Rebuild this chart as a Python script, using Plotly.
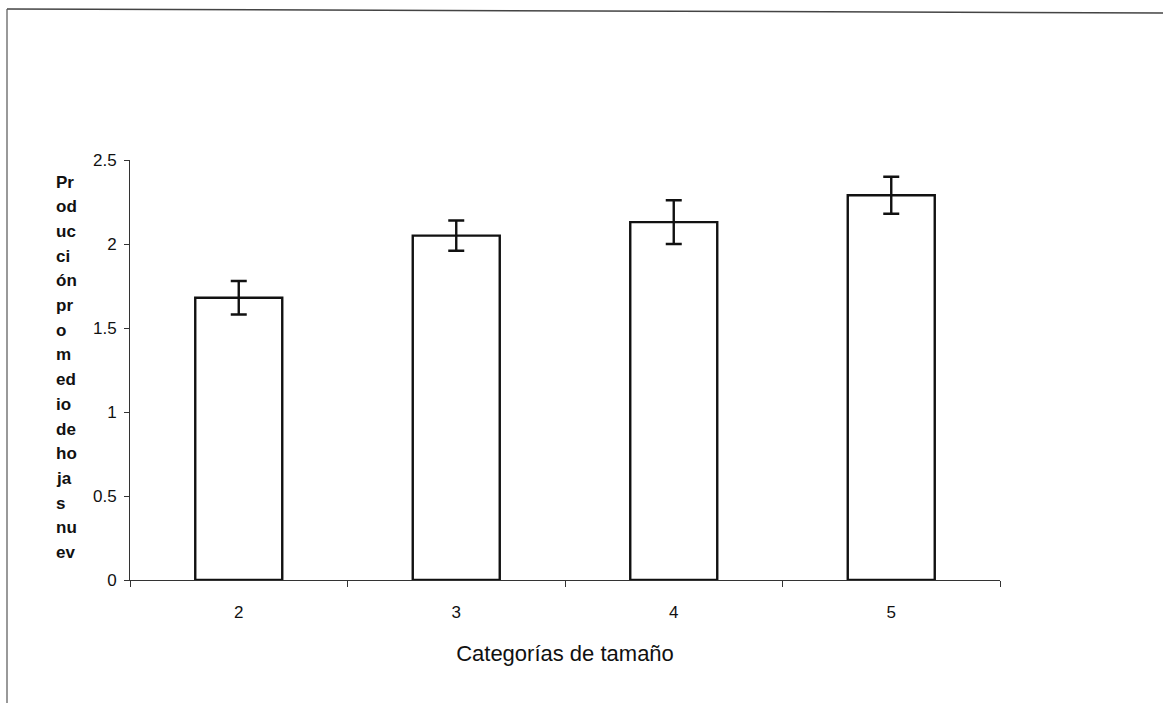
import plotly.graph_objects as go

# Size categories and mean new-leaf production with error half-widths
categories = ["2", "3", "4", "5"]
mean_values = [1.68, 2.05, 2.13, 2.29]
error_values = [0.10, 0.09, 0.13, 0.11]

y_tick_values = [0, 0.5, 1, 1.5, 2, 2.5]
y_tick_labels = ["0", "0.5", "1", "1.5", "2", "2.5"]

# Stacked (wrapped) y-axis title fragments
y_title_lines = ["Pr", "od", "uc", "ci", "ón", "pr", "o", "m", "ed", "io",
                 "de", "ho", "ja", "s", "nu", "ev"]

W, H = 1163, 703
ML, MR, MT, MB = 130, 163, 160, 123
PW, PH = W - ML - MR, H - MT - MB

FONT = "Liberation Sans, Arial, Helvetica, sans-serif"
INK = "#111111"


def px_to_paper_x(px):
    return (px - ML) / PW


def px_to_paper_y(py):
    return (H - MB - py) / PH


fig = go.Figure(
    go.Bar(
        x=categories,
        y=mean_values,
        marker=dict(color="white", line=dict(color=INK, width=2.4)),
        error_y=dict(type="data", array=error_values, visible=True,
                     color=INK, thickness=2.4, width=8),
        showlegend=False,
    )
)

fig.update_layout(
    width=W,
    height=H,
    margin=dict(l=ML, r=MR, t=MT, b=MB, pad=0),
    paper_bgcolor="white",
    plot_bgcolor="white",
    bargap=0.6,
    font=dict(family=FONT, color=INK, size=17),
)

fig.update_xaxes(
    type="category",
    range=[-0.5, 3.5],
    showline=True,
    linecolor="#333333",
    linewidth=1,
    ticks="outside",
    tickson="boundaries",
    ticklen=6,
    tickcolor="#333333",
    showgrid=False,
    zeroline=False,
    tickfont=dict(family=FONT, size=17, color=INK),
    ticklabelstandoff=17,
    title=dict(text="Categorías de tamaño",
               font=dict(family=FONT, size=22, color=INK),
               standoff=24),
)

fig.update_yaxes(
    range=[0, 2.5],
    tickvals=y_tick_values,
    ticktext=y_tick_labels,
    showline=True,
    linecolor="#333333",
    linewidth=1,
    ticks="outside",
    ticklen=5,
    tickcolor="#333333",
    showgrid=False,
    zeroline=False,
    tickfont=dict(family=FONT, size=17, color=INK),
    ticklabelstandoff=4,
)

# Wrapped y-axis title, one fragment per line
line_top, line_step = 182, 24.7
for i, frag in enumerate(y_title_lines):
    fig.add_annotation(
        text=f"<b>{frag}</b>",
        xref="paper", yref="paper",
        x=px_to_paper_x(54), y=px_to_paper_y(line_top + i * line_step),
        xanchor="left", yanchor="middle",
        showarrow=False,
        font=dict(family=FONT, size=17, color=INK),
    )

# Page frame lines along the top and left edges
fig.add_shape(type="line", xref="paper", yref="paper",
              x0=px_to_paper_x(7), y0=px_to_paper_y(9),
              x1=px_to_paper_x(1163), y1=px_to_paper_y(13),
              line=dict(color="#444444", width=1.5))
fig.add_shape(type="line", xref="paper", yref="paper",
              x0=px_to_paper_x(7), y0=px_to_paper_y(9),
              x1=px_to_paper_x(7), y1=px_to_paper_y(703),
              line=dict(color="#555555", width=1.2))

fig.write_html("out.html")
